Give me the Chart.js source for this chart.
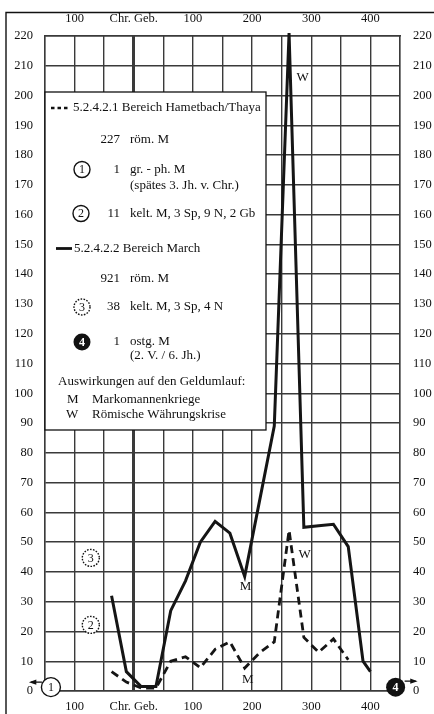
<!DOCTYPE html>
<html><head><meta charset="utf-8">
<script src="https://cdn.jsdelivr.net/npm/chart.js@4"></script>
<style>html,body{margin:0;padding:0;background:#fff;}canvas{display:block;}</style>
</head><body>
<canvas id="c" width="434" height="714"></canvas>
<script>
// ---- data ----
const marchYears  = [-37.5, -12.5, 12.5, 37.5, 62.5, 87.5, 112.5, 137.5, 162.5, 187.5, 237.5, 262.5, 287.5, 312.5, 337.5, 362.5, 387.5, 400];
const marchValues = [32, 6.5, 1.5, 1.5, 27, 37, 50, 57, 53, 38.5, 89, 221, 55, 55.5, 56, 48.5, 10, 6.5];
const thayaYears  = [-37.5, -12.5, 12.5, 37.5, 62.5, 87.5, 112.5, 137.5, 162.5, 187.5, 212.5, 237.5, 262.5, 287.5, 312.5, 337.5, 362.5];
const thayaValues = [6.5, 3, 1, 1, 10, 11.5, 7.8, 14, 16.5, 7.7, 12.8, 16.5, 54, 18, 13, 17.5, 10.5];

const gridYears   = [-150,-100,-50,0,50,100,150,200,250,300,350,400,450];
const tickYears   = [-100, 0, 100, 200, 300, 400];
const tickLabels  = ['100', 'Chr. Geb.', '100', '200', '300', '400'];
const yTicks      = [0,10,20,30,40,50,60,70,80,90,100,110,120,130,140,150,160,170,180,190,200,210,220];

// single-find markers (circled numbers)
const markerYears  = [-140, -72.6, -72.6, 442.6];
const markerValues = [1.3, 22.2, 44.7, 1.3];
const markerLabels = ['1', '2', '3', '4'];

// letter annotations
const annotYears  = [285.5, 289, 189, 192.6];
const annotValues = [206, 45.7, 35, 3.7];
const annotTexts  = ['W', 'W', 'M', 'M'];

const SERIF = '"Liberation Serif", "DejaVu Serif", serif';
const INK = '#111';
const GRID = '#3a3a3a';

function labelFor(v){ const i = tickYears.indexOf(v); return i >= 0 ? tickLabels[i] : ''; }

function circle(ctx, x, y, r, label, style){
  ctx.save();
  ctx.beginPath(); ctx.arc(x, y, r, 0, Math.PI*2);
  if (style === 'filled'){ ctx.fillStyle = '#111'; ctx.fill(); }
  else { ctx.fillStyle = '#fff'; ctx.fill(); ctx.lineWidth = 1.4; ctx.strokeStyle = INK;
    if (style === 'dotted') ctx.setLineDash([1.6,1.4]); ctx.stroke(); ctx.setLineDash([]); }
  ctx.fillStyle = style === 'filled' ? '#fff' : INK;
  ctx.font = (style==='filled' ? 'bold ' : '') + '12px ' + SERIF;
  ctx.textAlign = 'center'; ctx.textBaseline = 'middle';
  ctx.fillText(label, x, y + 0.5);
  ctx.restore();
}
function arrow(ctx, x1, y1, x2, y2){
  ctx.save(); ctx.strokeStyle = INK; ctx.fillStyle = INK; ctx.lineWidth = 1.3;
  ctx.beginPath(); ctx.moveTo(x1,y1); ctx.lineTo(x2,y2); ctx.stroke();
  const a = Math.atan2(y2-y1, x2-x1), L = 6;
  ctx.beginPath(); ctx.moveTo(x2 + Math.cos(a)*2, y2 + Math.sin(a)*2);
  ctx.lineTo(x2 - L*Math.cos(a-0.45), y2 - L*Math.sin(a-0.45));
  ctx.lineTo(x2 - L*Math.cos(a+0.45), y2 - L*Math.sin(a+0.45));
  ctx.closePath(); ctx.fill(); ctx.restore();
}

const overlay = {
  id: 'overlay',
  beforeDraw(chart){
    const ctx = chart.ctx; ctx.save();
    ctx.strokeStyle = INK; ctx.lineWidth = 1.4;
    ctx.beginPath(); ctx.moveTo(6, 714); ctx.lineTo(6, 12.5); ctx.lineTo(434, 12.5); ctx.stroke();
    ctx.restore();
  },
  afterDatasetsDraw(chart){
    const ctx = chart.ctx, xs = chart.scales.x, ys = chart.scales.y;
    // legend box
    const L = chart.chartArea.left, bx2 = 266, by1 = 92, by2 = 430;
    ctx.save();
    ctx.fillStyle = '#fff'; ctx.fillRect(L, by1, bx2-L, by2-by1);
    ctx.strokeStyle = INK; ctx.lineWidth = 1.3; ctx.strokeRect(L, by1, bx2-L, by2-by1);
    ctx.fillStyle = INK; ctx.textBaseline = 'middle';
    ctx.font = '13px ' + SERIF;
    // dashed sample
    ctx.lineWidth = 2.6; ctx.setLineDash([3.5,3]);
    ctx.beginPath(); ctx.moveTo(51,108); ctx.lineTo(70,108); ctx.stroke(); ctx.setLineDash([]);
    ctx.textAlign = 'left'; ctx.fillText('5.2.4.2.1 Bereich Hametbach/Thaya', 73, 108);
    const num = (t,y)=>{ ctx.textAlign='right'; ctx.fillText(t,120,y); ctx.textAlign='left'; };
    num('227',140); ctx.fillText('röm. M',130,140);
    circle(ctx, 82, 169.5, 8, '1', 'open');
    ctx.fillStyle = INK; ctx.font = '13px ' + SERIF; ctx.textBaseline='middle';
    num('1',169.5); ctx.fillText('gr. - ph. M',130,169.5);
    ctx.fillText('(spätes 3. Jh. v. Chr.)',130,186);
    circle(ctx, 81, 213.5, 8, '2', 'open');
    ctx.fillStyle = INK; ctx.font = '13px ' + SERIF; ctx.textBaseline='middle';
    num('11',213.5); ctx.fillText('kelt. M, 3 Sp, 9 N, 2 Gb',130,213.5);
    ctx.lineWidth = 2.8; ctx.beginPath(); ctx.moveTo(56,248.5); ctx.lineTo(72,248.5); ctx.stroke();
    ctx.fillText('5.2.4.2.2 Bereich March',74,248.5);
    num('921',279); ctx.fillText('röm. M',130,279);
    circle(ctx, 82, 307, 8, '3', 'dotted');
    ctx.fillStyle = INK; ctx.font = '13px ' + SERIF; ctx.textBaseline='middle';
    num('38',307); ctx.fillText('kelt. M, 3 Sp, 4 N',130,307);
    circle(ctx, 82, 342, 8.5, '4', 'filled');
    ctx.fillStyle = INK; ctx.font = '13px ' + SERIF; ctx.textBaseline='middle';
    num('1',342); ctx.fillText('ostg. M',130,342);
    ctx.fillText('(2. V. / 6. Jh.)',130,356);
    ctx.fillText('Auswirkungen auf den Geldumlauf:',58,382);
    ctx.fillText('M',67,400); ctx.fillText('Markomannenkriege',92,400);
    ctx.fillText('W',66,415); ctx.fillText('Römische Währungskrise',92,415);
    ctx.restore();

    // letter annotations
    ctx.save(); ctx.fillStyle = INK; ctx.font = '13px ' + SERIF;
    ctx.textAlign = 'center'; ctx.textBaseline = 'middle';
    annotTexts.forEach((t,i)=> ctx.fillText(t, xs.getPixelForValue(annotYears[i]), ys.getPixelForValue(annotValues[i])));
    ctx.restore();

    // markers
    markerLabels.forEach((t,i)=>{
      const x = xs.getPixelForValue(markerYears[i]), y = ys.getPixelForValue(markerValues[i]);
      if (i === 0) arrow(ctx, x-9, y-5, x-20, y-5);
      if (i === 3) arrow(ctx, x+9, y-6, x+20, y-6);
      circle(ctx, x, y, i===0||i===3 ? 9.5 : 8.5, t, i===0 ? 'open' : (i===3 ? 'filled' : 'dotted'));
    });
  }
};

const tickFont = { family: SERIF, size: 12.5 };
new Chart(document.getElementById('c'), {
  type: 'line',
  data: {
    datasets: [
      { label: '5.2.4.2.2 Bereich March',
        data: marchYears.map((x,i)=>({x, y: marchValues[i]})),
        borderColor: '#151515', borderWidth: 3, pointRadius: 0, tension: 0, clip: false, fill: false, borderJoinStyle: 'miter' },
      { label: '5.2.4.2.1 Bereich Hametbach/Thaya',
        data: thayaYears.map((x,i)=>({x, y: thayaValues[i]})),
        borderColor: '#151515', borderWidth: 2.8, borderDash: [8,5], pointRadius: 0, tension: 0, fill: false }
    ]
  },
  options: {
    responsive: false, animation: false, devicePixelRatio: 1,
    layout: { padding: 0 },
    plugins: { legend: { display: false }, tooltip: { enabled: false } },
    scales: {
      x: { type: 'linear', position: 'bottom', min: -150, max: 450,
        afterBuildTicks: s => { s.ticks = gridYears.map(v => ({ value: v })); },
        afterFit: s => { s.height = 23; },
        ticks: { autoSkip: false, maxRotation: 0, padding: 8, color: INK, font: tickFont, callback: v => labelFor(v) },
        grid: { color: GRID, lineWidth: c => (c.tick && c.tick.value === 0) ? 3 : 1.4, drawTicks: false },
        border: { display: true, color: GRID, width: 1.4 } },
      xTop: { type: 'linear', position: 'top', min: -150, max: 450,
        afterBuildTicks: s => { s.ticks = gridYears.map(v => ({ value: v })); },
        afterFit: s => { s.height = 36; },
        ticks: { autoSkip: false, maxRotation: 0, padding: 10, color: INK, font: tickFont, callback: v => labelFor(v) },
        grid: { display: false, drawTicks: false },
        border: { display: true, color: GRID, width: 1.4 } },
      y: { position: 'left', min: 0, max: 220,
        afterBuildTicks: s => { s.ticks = yTicks.map(v => ({ value: v })); },
        afterFit: s => { s.width = 45; },
        ticks: { autoSkip: false, padding: 12, color: INK, font: tickFont },
        grid: { color: GRID, lineWidth: 1.4, drawTicks: false },
        border: { display: true, color: GRID, width: 1.4 } },
      yR: { position: 'right', min: 0, max: 220,
        afterBuildTicks: s => { s.ticks = yTicks.map(v => ({ value: v })); },
        afterFit: s => { s.width = 34; },
        ticks: { autoSkip: false, padding: 13, color: INK, font: tickFont },
        grid: { display: false, drawTicks: false },
        border: { display: true, color: GRID, width: 1.4 } }
    }
  },
  plugins: [overlay]
});
</script>
</body></html>
